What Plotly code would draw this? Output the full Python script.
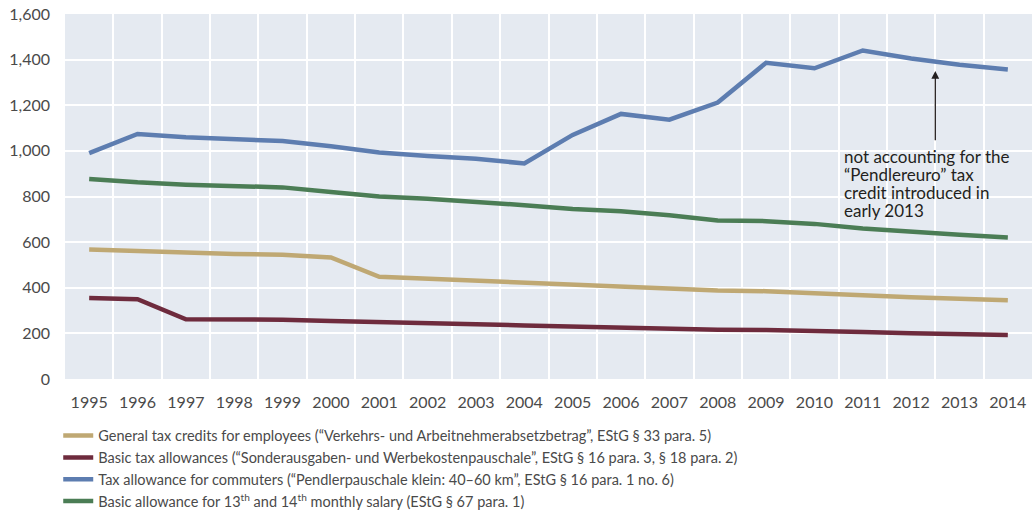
import plotly.graph_objects as go

years = list(range(1995, 2015))

general_credits = [568, 560, 553, 548, 545, 533, 448, 440, 433, 425,
                   415, 408, 398, 388, 385, 378, 367, 358, 350, 345]
basic_allowances = [355, 350, 262, 261, 260, 254, 248, 244, 240, 235,
                    230, 227, 222, 216, 215, 212, 206, 201, 196, 193]
commuters = [990, 1074, 1060, 1050, 1043, 1020, 993, 978, 965, 945,
             1070, 1162, 1137, 1212, 1386, 1362, 1440, 1405, 1378, 1357]
salary_13_14 = [877, 862, 852, 845, 840, 820, 800, 790, 778, 762,
                745, 735, 718, 695, 692, 680, 660, 645, 632, 620]

series = [
    ("General tax credits for employees (“Verkehrs- und Arbeitnehmerabsetzbetrag”, EStG § 33 para. 5)",
     general_credits, "#BFA873"),
    ("Basic tax allowances (“Sonderausgaben- und Werbekostenpauschale”, EStG § 16 para. 3, § 18 para. 2)",
     basic_allowances, "#6E2B3D"),
    ("Tax allowance for commuters (“Pendlerpauschale klein: 40–60 km”, EStG § 16 para. 1 no. 6)",
     commuters, "#5D7DB0"),
    ("Basic allowance for 13<sup>th</sup> and 14<sup>th</sup> monthly salary (EStG § 67 para. 1)",
     salary_13_14, "#4B7D55"),
]

note_lines = ["not accounting for the", "“Pendlereuro” tax",
              "credit introduced in", "early 2013"]

FONT = "Lato, 'Open Sans', sans-serif"
TEXT = "#4a4a4a"

fig = go.Figure()
for name, vals, color in series:
    fig.add_trace(go.Scatter(
        x=years, y=vals, mode="lines", name=name,
        line=dict(color=color, width=4.5),
    ))

# arrow pointing at the 2013 commuter value
fig.add_annotation(
    x=2012.5, y=1350, ax=2012.5, ay=1040,
    xref="x", yref="y", axref="x", ayref="y",
    text="", showarrow=True, arrowhead=2, arrowsize=1.2,
    arrowwidth=1.3, arrowcolor="#231F20",
)
# note text, one line each to keep the tight line spacing
for i, line in enumerate(note_lines):
    fig.add_annotation(
        x=2010.57, y=975 - i * 79, xref="x", yref="y",
        xanchor="left", yanchor="middle", align="left", showarrow=False,
        text=line,
        font=dict(family=FONT, size=17, color="#231F20"),
    )

fig.update_layout(
    width=1032, height=513,
    margin=dict(l=65, r=0, t=14, b=134),
    plot_bgcolor="#E5EAF1",
    paper_bgcolor="white",
    font=dict(family=FONT, color=TEXT),
    showlegend=True,
    # vertical position against the whole figure so it does not squeeze the plot
    legend=dict(
        xref="paper", yref="container",
        x=-0.007, y=0.182, xanchor="left", yanchor="top",
        font=dict(family=FONT, size=14.5, color=TEXT),
        tracegroupgap=0, itemwidth=30,
        bgcolor="rgba(0,0,0,0)",
    ),
    xaxis=dict(
        range=[1994.5, 2014.5],
        tickvals=years,
        showgrid=False, zeroline=False, automargin=False,
        ticks="", ticklabelstandoff=12,
        tickfont=dict(size=16, color=TEXT),
        minor=dict(tickvals=[y + 0.5 for y in years[:-1]],
                   showgrid=True, gridcolor="white", gridwidth=2),
    ),
    yaxis=dict(
        range=[0, 1600], dtick=200,
        tickformat=",d", automargin=False,
        showgrid=True, gridcolor="white", gridwidth=2,
        zeroline=False,
        ticks="", ticklabelstandoff=14,
        tickfont=dict(size=16, color=TEXT),
    ),
)

# pin the figure to the top-left corner so the page is exactly the figure size
pin = ("var d=document.getElementById('{plot_id}');"
       "d.style.position='absolute';d.style.top='0';d.style.left='0';"
       "document.body.style.margin='0';document.body.style.overflow='hidden';")
fig.write_html("out.html", config={"displayModeBar": False}, post_script=pin)
